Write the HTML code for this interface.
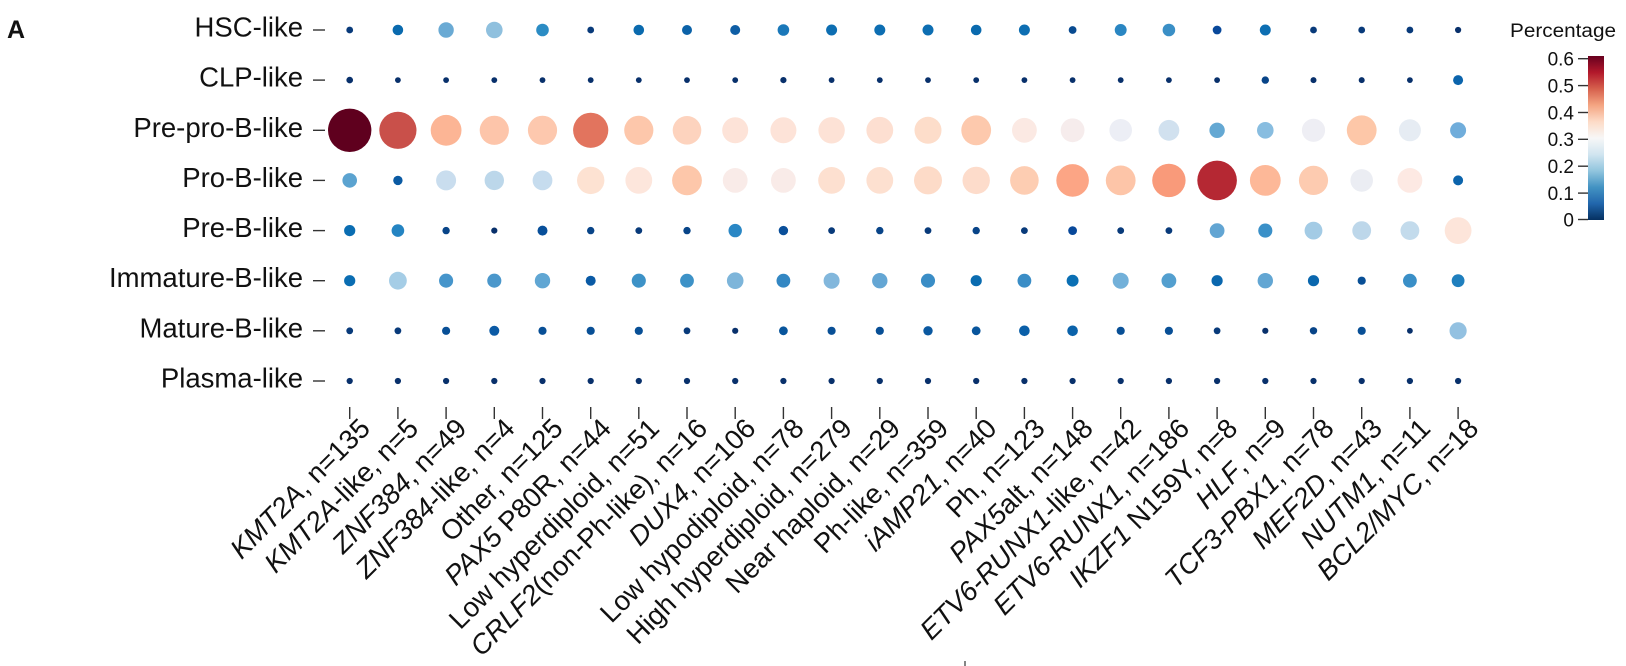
<!DOCTYPE html>
<html><head><meta charset="utf-8"><style>
html,body{margin:0;padding:0;background:#fff;}
svg{display:block;}
text{font-family:"Liberation Sans",Arial,sans-serif;fill:#111;}
</style></head><body>
<svg width="1626" height="666" viewBox="0 0 1626 666" xmlns="http://www.w3.org/2000/svg">
<defs>
<linearGradient id="cb" x1="0" y1="0" x2="0" y2="1">
<stop offset="0" stop-color="#67001f"/><stop offset="0.1" stop-color="#b2182b"/><stop offset="0.2" stop-color="#d6604d"/><stop offset="0.3" stop-color="#f4a582"/><stop offset="0.4" stop-color="#fddbc7"/><stop offset="0.5" stop-color="#f7f7f7"/><stop offset="0.6" stop-color="#d1e5f0"/><stop offset="0.7" stop-color="#92c5de"/><stop offset="0.8" stop-color="#4393c3"/><stop offset="0.9" stop-color="#2166ac"/><stop offset="1" stop-color="#053061"/>
</linearGradient>
</defs>
<rect width="1626" height="666" fill="#fff"/>
<text x="7" y="38" font-size="25" font-weight="bold">A</text>

<!-- row labels -->
<g font-size="27.5" text-anchor="end">
<text x="303" y="36.5">HSC-like</text>
<text x="303" y="86.6">CLP-like</text>
<text x="303" y="136.8">Pre-pro-B-like</text>
<text x="303" y="186.9">Pro-B-like</text>
<text x="303" y="237.1">Pre-B-like</text>
<text x="303" y="287.2">Immature-B-like</text>
<text x="303" y="337.3">Mature-B-like</text>
<text x="303" y="387.5">Plasma-like</text>
</g>
<g stroke="#333" stroke-width="1.4">
<line x1="313" x2="325" y1="30" y2="30"/><line x1="313" x2="325" y1="80.1" y2="80.1"/><line x1="313" x2="325" y1="130.3" y2="130.3"/><line x1="313" x2="325" y1="180.4" y2="180.4"/><line x1="313" x2="325" y1="230.6" y2="230.6"/><line x1="313" x2="325" y1="280.7" y2="280.7"/><line x1="313" x2="325" y1="330.8" y2="330.8"/><line x1="313" x2="325" y1="381" y2="381"/>
</g>
<!-- x ticks -->
<g stroke="#333" stroke-width="1.4">
<line x1="349.7" x2="349.7" y1="407" y2="419"/><line x1="397.9" x2="397.9" y1="407" y2="419"/><line x1="446.1" x2="446.1" y1="407" y2="419"/><line x1="494.3" x2="494.3" y1="407" y2="419"/><line x1="542.5" x2="542.5" y1="407" y2="419"/><line x1="590.7" x2="590.7" y1="407" y2="419"/><line x1="638.8" x2="638.8" y1="407" y2="419"/><line x1="687" x2="687" y1="407" y2="419"/><line x1="735.2" x2="735.2" y1="407" y2="419"/><line x1="783.4" x2="783.4" y1="407" y2="419"/><line x1="831.6" x2="831.6" y1="407" y2="419"/><line x1="879.8" x2="879.8" y1="407" y2="419"/><line x1="928" x2="928" y1="407" y2="419"/><line x1="976.2" x2="976.2" y1="407" y2="419"/><line x1="1024.4" x2="1024.4" y1="407" y2="419"/><line x1="1072.6" x2="1072.6" y1="407" y2="419"/><line x1="1120.7" x2="1120.7" y1="407" y2="419"/><line x1="1168.9" x2="1168.9" y1="407" y2="419"/><line x1="1217.1" x2="1217.1" y1="407" y2="419"/><line x1="1265.3" x2="1265.3" y1="407" y2="419"/><line x1="1313.5" x2="1313.5" y1="407" y2="419"/><line x1="1361.7" x2="1361.7" y1="407" y2="419"/><line x1="1409.9" x2="1409.9" y1="407" y2="419"/><line x1="1458.1" x2="1458.1" y1="407" y2="419"/>
<line x1="965" x2="965" y1="661" y2="666" stroke-width="1.2"/>
</g>
<!-- x labels -->
<g font-size="27.5" text-anchor="end">
<text transform="translate(371.7,430) rotate(-45)"><tspan font-style="italic">KMT2A</tspan>, n=135</text>
<text transform="translate(419.9,430) rotate(-45)"><tspan font-style="italic">KMT2A</tspan>-like, n=5</text>
<text transform="translate(468.1,430) rotate(-45)"><tspan font-style="italic">ZNF384</tspan>, n=49</text>
<text transform="translate(516.3,430) rotate(-45)"><tspan font-style="italic">ZNF384</tspan>-like, n=4</text>
<text transform="translate(564.5,430) rotate(-45)">Other, n=125</text>
<text transform="translate(612.7,430) rotate(-45)"><tspan font-style="italic">PAX5</tspan> P80R, n=44</text>
<text transform="translate(660.8,430) rotate(-45)">Low hyperdiploid, n=51</text>
<text transform="translate(709,430) rotate(-45)"><tspan font-style="italic">CRLF2</tspan>(non-Ph-like), n=16</text>
<text transform="translate(757.2,430) rotate(-45)"><tspan font-style="italic">DUX4</tspan>, n=106</text>
<text transform="translate(805.4,430) rotate(-45)">Low hypodiploid, n=78</text>
<text transform="translate(853.6,430) rotate(-45)">High hyperdiploid, n=279</text>
<text transform="translate(901.8,430) rotate(-45)">Near haploid, n=29</text>
<text transform="translate(950,430) rotate(-45)">Ph-like, n=359</text>
<text transform="translate(998.2,430) rotate(-45)"><tspan font-style="italic">iAMP21</tspan>, n=40</text>
<text transform="translate(1046.4,430) rotate(-45)">Ph, n=123</text>
<text transform="translate(1094.6,430) rotate(-45)"><tspan font-style="italic">PAX5</tspan>alt, n=148</text>
<text transform="translate(1142.7,430) rotate(-45)"><tspan font-style="italic">ETV6-RUNX1</tspan>-like, n=42</text>
<text transform="translate(1190.9,430) rotate(-45)"><tspan font-style="italic">ETV6-RUNX1</tspan>, n=186</text>
<text transform="translate(1239.1,430) rotate(-45)"><tspan font-style="italic">IKZF1</tspan> N159Y, n=8</text>
<text transform="translate(1287.3,430) rotate(-45)"><tspan font-style="italic">HLF</tspan>, n=9</text>
<text transform="translate(1335.5,430) rotate(-45)"><tspan font-style="italic">TCF3-PBX1</tspan>, n=78</text>
<text transform="translate(1383.7,430) rotate(-45)"><tspan font-style="italic">MEF2D</tspan>, n=43</text>
<text transform="translate(1431.9,430) rotate(-45)"><tspan font-style="italic">NUTM1</tspan>, n=11</text>
<text transform="translate(1480.1,430) rotate(-45)"><tspan font-style="italic">BCL2/MYC</tspan>, n=18</text>
</g>

<!-- Row 0 HSC -->
<g transform="translate(0,30)">
<circle cx="349.7" r="3.4" fill="#083a7a"/>
<circle cx="397.9" r="5.3" fill="#0a6aae"/>
<circle cx="446.1" r="7.7" fill="#6aaad4"/>
<circle cx="494.3" r="8.3" fill="#8fc0de"/>
<circle cx="542.5" r="6.3" fill="#2b8cc4"/>
<circle cx="590.7" r="3.4" fill="#083a7a"/>
<circle cx="638.8" r="5.3" fill="#0a6aae"/>
<circle cx="687" r="5.0" fill="#0b62a8"/>
<circle cx="735.2" r="5.0" fill="#0e5ea5"/>
<circle cx="783.4" r="5.8" fill="#1a78b9"/>
<circle cx="831.6" r="5.5" fill="#0d6eb2"/>
<circle cx="879.8" r="5.5" fill="#0d6eb2"/>
<circle cx="928" r="5.5" fill="#0d6eb2"/>
<circle cx="976.2" r="5.3" fill="#0a6aae"/>
<circle cx="1024.4" r="5.5" fill="#0d6eb2"/>
<circle cx="1072.6" r="3.9" fill="#084a90"/>
<circle cx="1120.7" r="5.95" fill="#2a86c2"/>
<circle cx="1168.9" r="6.3" fill="#3a8fc6"/>
<circle cx="1217.1" r="4.4" fill="#08489a"/>
<circle cx="1265.3" r="5.5" fill="#0d6eb2"/>
<circle cx="1313.5" r="3.4" fill="#083a7a"/>
<circle cx="1361.7" r="3.4" fill="#083a7a"/>
<circle cx="1409.9" r="3.4" fill="#083a7a"/>
<circle cx="1458.1" r="3.1" fill="#08306b"/>
</g>
<!-- Row 1 CLP -->
<g transform="translate(0,80.1)" fill="#08306b">
<circle cx="349.7" r="3.3"/>
<circle cx="397.9" r="2.9"/>
<circle cx="446.1" r="2.9"/>
<circle cx="494.3" r="2.9"/>
<circle cx="542.5" r="2.9"/>
<circle cx="590.7" r="2.9"/>
<circle cx="638.8" r="2.9"/>
<circle cx="687" r="2.9"/>
<circle cx="735.2" r="2.9"/>
<circle cx="783.4" r="3.1"/>
<circle cx="831.6" r="2.9"/>
<circle cx="879.8" r="2.9"/>
<circle cx="928" r="2.9"/>
<circle cx="976.2" r="2.9"/>
<circle cx="1024.4" r="2.9"/>
<circle cx="1072.6" r="2.9"/>
<circle cx="1120.7" r="2.9"/>
<circle cx="1168.9" r="2.9"/>
<circle cx="1217.1" r="2.9"/>
<circle cx="1265.3" r="3.7" fill="#084488"/>
<circle cx="1313.5" r="3.0"/>
<circle cx="1361.7" r="3.0"/>
<circle cx="1409.9" r="2.9"/>
<circle cx="1458.1" r="5.0" fill="#0b64ac"/>
</g>
<!-- Row 2 Pre-pro-B -->
<g transform="translate(0,130.3)">
<circle cx="349.7" r="21.7" fill="#5f001e"/>
<circle cx="397.9" r="18.6" fill="#c9504a"/>
<circle cx="446.1" r="15.4" fill="#fcb595"/>
<circle cx="494.3" r="14.6" fill="#fdc5aa"/>
<circle cx="542.5" r="14.6" fill="#fdc8ae"/>
<circle cx="590.7" r="17.6" fill="#e2745e"/>
<circle cx="638.8" r="14.6" fill="#fdc7ab"/>
<circle cx="687" r="14.3" fill="#fdd3be"/>
<circle cx="735.2" r="13.0" fill="#fde3d8"/>
<circle cx="783.4" r="13.0" fill="#fde3d8"/>
<circle cx="831.6" r="13.2" fill="#fde2d6"/>
<circle cx="879.8" r="13.4" fill="#fddfd1"/>
<circle cx="928" r="13.5" fill="#fdddca"/>
<circle cx="976.2" r="14.9" fill="#fdc9ad"/>
<circle cx="1024.4" r="12.4" fill="#fbe9e3"/>
<circle cx="1072.6" r="11.9" fill="#f6ecec"/>
<circle cx="1120.7" r="11.3" fill="#eceef5"/>
<circle cx="1168.9" r="10.4" fill="#d1e1ef"/>
<circle cx="1217.1" r="7.7" fill="#64a8d3"/>
<circle cx="1265.3" r="8.3" fill="#88bde0"/>
<circle cx="1313.5" r="11.6" fill="#eeeef4"/>
<circle cx="1361.7" r="14.9" fill="#fdc7a8"/>
<circle cx="1409.9" r="11.0" fill="#e6ecf3"/>
<circle cx="1458.1" r="8.0" fill="#70addb"/>
</g>
<!-- Row 3 Pro-B -->
<g transform="translate(0,180.4)">
<circle cx="349.7" r="7.3" fill="#5ba3d0"/>
<circle cx="397.9" r="4.7" fill="#0a5aa3"/>
<circle cx="446.1" r="10.0" fill="#c9ddee"/>
<circle cx="494.3" r="9.7" fill="#bcd7ea"/>
<circle cx="542.5" r="9.9" fill="#c6dcee"/>
<circle cx="590.7" r="13.7" fill="#fde2d2"/>
<circle cx="638.8" r="13.4" fill="#fde6dc"/>
<circle cx="687" r="14.9" fill="#fdc7aa"/>
<circle cx="735.2" r="12.4" fill="#f9ebe8"/>
<circle cx="783.4" r="12.4" fill="#f9ebe8"/>
<circle cx="831.6" r="13.4" fill="#fde0d0"/>
<circle cx="879.8" r="13.4" fill="#fde0d0"/>
<circle cx="928" r="14.0" fill="#fddbc8"/>
<circle cx="976.2" r="13.7" fill="#fddccb"/>
<circle cx="1024.4" r="14.3" fill="#fdcdb2"/>
<circle cx="1072.6" r="16.3" fill="#fca585"/>
<circle cx="1120.7" r="14.9" fill="#fdc5a8"/>
<circle cx="1168.9" r="16.7" fill="#f99a7a"/>
<circle cx="1217.1" r="19.8" fill="#b52833"/>
<circle cx="1265.3" r="15.4" fill="#fdb898"/>
<circle cx="1313.5" r="14.6" fill="#fdcbb0"/>
<circle cx="1361.7" r="11.3" fill="#ebedf3"/>
<circle cx="1409.9" r="12.4" fill="#fde9e3"/>
<circle cx="1458.1" r="5.0" fill="#0b64ac"/>
</g>
<!-- Row 4 Pre-B -->
<g transform="translate(0,230.6)">
<circle cx="349.7" r="5.6" fill="#0a6db2"/>
<circle cx="397.9" r="6.3" fill="#2484c2"/>
<circle cx="446.1" r="3.7" fill="#084488"/>
<circle cx="494.3" r="3.1" fill="#08306b"/>
<circle cx="542.5" r="5.0" fill="#084f9a"/>
<circle cx="590.7" r="3.7" fill="#084488"/>
<circle cx="638.8" r="3.4" fill="#083a7a"/>
<circle cx="687" r="3.7" fill="#084488"/>
<circle cx="735.2" r="6.7" fill="#2a87c5"/>
<circle cx="783.4" r="4.7" fill="#0a4f9a"/>
<circle cx="831.6" r="3.4" fill="#083a7a"/>
<circle cx="879.8" r="3.7" fill="#084488"/>
<circle cx="928" r="3.4" fill="#083a7a"/>
<circle cx="976.2" r="3.7" fill="#084488"/>
<circle cx="1024.4" r="3.4" fill="#083a7a"/>
<circle cx="1072.6" r="4.4" fill="#08489a"/>
<circle cx="1120.7" r="3.4" fill="#083a7a"/>
<circle cx="1168.9" r="3.4" fill="#083a7a"/>
<circle cx="1217.1" r="7.4" fill="#62a5d3"/>
<circle cx="1265.3" r="7.05" fill="#3a90c8"/>
<circle cx="1313.5" r="8.9" fill="#a3cbe5"/>
<circle cx="1361.7" r="9.4" fill="#bdd7ea"/>
<circle cx="1409.9" r="9.4" fill="#c3dbec"/>
<circle cx="1458.1" r="13.4" fill="#fde5da"/>
</g>
<!-- Row 5 Immature-B -->
<g transform="translate(0,280.7)">
<circle cx="349.7" r="5.6" fill="#0a6db2"/>
<circle cx="397.9" r="8.9" fill="#a5cde6"/>
<circle cx="446.1" r="7.05" fill="#4695cb"/>
<circle cx="494.3" r="7.05" fill="#4b97cb"/>
<circle cx="542.5" r="7.7" fill="#60a6d3"/>
<circle cx="590.7" r="5.0" fill="#0a5aa5"/>
<circle cx="638.8" r="7.05" fill="#3d92c7"/>
<circle cx="687" r="6.9" fill="#3d92c7"/>
<circle cx="735.2" r="8.3" fill="#7db5da"/>
<circle cx="783.4" r="6.9" fill="#3387c3"/>
<circle cx="831.6" r="8.0" fill="#82b7dc"/>
<circle cx="879.8" r="7.7" fill="#64a6d4"/>
<circle cx="928" r="7.05" fill="#3a8dc6"/>
<circle cx="976.2" r="5.6" fill="#0a6cb0"/>
<circle cx="1024.4" r="6.9" fill="#3a8dc6"/>
<circle cx="1072.6" r="5.95" fill="#0a6fb4"/>
<circle cx="1120.7" r="8.0" fill="#72b0d9"/>
<circle cx="1168.9" r="7.4" fill="#539fcf"/>
<circle cx="1217.1" r="5.6" fill="#0a67ae"/>
<circle cx="1265.3" r="7.7" fill="#62a6d3"/>
<circle cx="1313.5" r="5.6" fill="#0a67ae"/>
<circle cx="1361.7" r="4.1" fill="#084f96"/>
<circle cx="1409.9" r="6.9" fill="#3a8fc7"/>
<circle cx="1458.1" r="6.4" fill="#1f7fbe"/>
</g>
<!-- Row 6 Mature-B -->
<g transform="translate(0,330.8)">
<circle cx="349.7" r="3.4" fill="#083a7a"/>
<circle cx="397.9" r="3.4" fill="#083a7a"/>
<circle cx="446.1" r="4.1" fill="#084f96"/>
<circle cx="494.3" r="5.0" fill="#0b5aa5"/>
<circle cx="542.5" r="4.1" fill="#084f96"/>
<circle cx="590.7" r="4.1" fill="#084f96"/>
<circle cx="638.8" r="4.1" fill="#084f96"/>
<circle cx="687" r="3.4" fill="#083a7a"/>
<circle cx="735.2" r="3.1" fill="#08306b"/>
<circle cx="783.4" r="4.4" fill="#08559c"/>
<circle cx="831.6" r="4.1" fill="#084f96"/>
<circle cx="879.8" r="4.1" fill="#084f96"/>
<circle cx="928" r="4.7" fill="#0a58a0"/>
<circle cx="976.2" r="4.4" fill="#08559c"/>
<circle cx="1024.4" r="5.3" fill="#0a5fa8"/>
<circle cx="1072.6" r="5.3" fill="#0a62aa"/>
<circle cx="1120.7" r="4.1" fill="#084f96"/>
<circle cx="1168.9" r="4.1" fill="#084f96"/>
<circle cx="1217.1" r="3.4" fill="#083a7a"/>
<circle cx="1265.3" r="3.1" fill="#08306b"/>
<circle cx="1313.5" r="3.7" fill="#084488"/>
<circle cx="1361.7" r="4.1" fill="#084f96"/>
<circle cx="1409.9" r="2.9" fill="#08306b"/>
<circle cx="1458.1" r="8.6" fill="#93c1e1"/>
</g>
<!-- Row 7 Plasma -->
<g transform="translate(0,381)" fill="#08306b">
<circle cx="349.7" r="3.1"/><circle cx="397.9" r="3.1"/><circle cx="446.1" r="3.1"/><circle cx="494.3" r="3.1"/><circle cx="542.5" r="3.1"/><circle cx="590.7" r="3.1"/><circle cx="638.8" r="3.1"/><circle cx="687" r="3.1"/><circle cx="735.2" r="3.1"/><circle cx="783.4" r="3.1"/><circle cx="831.6" r="3.1"/><circle cx="879.8" r="3.1"/><circle cx="928" r="3.1"/><circle cx="976.2" r="3.1"/><circle cx="1024.4" r="3.1"/><circle cx="1072.6" r="3.1"/><circle cx="1120.7" r="3.1"/><circle cx="1168.9" r="3.1"/><circle cx="1217.1" r="3.1"/><circle cx="1265.3" r="3.1"/><circle cx="1313.5" r="3.1"/><circle cx="1361.7" r="3.1"/><circle cx="1409.9" r="3.1"/><circle cx="1458.1" r="3.1"/>
</g>

<!-- legend -->
<text x="1510" y="37" font-size="19" textLength="106" lengthAdjust="spacingAndGlyphs">Percentage</text>
<rect x="1588" y="56" width="16" height="164" fill="url(#cb)"/>
<g stroke="#333" stroke-width="1.4">
<line x1="1578" x2="1588" y1="58.7" y2="58.7"/><line x1="1578" x2="1588" y1="85.6" y2="85.6"/><line x1="1578" x2="1588" y1="112.5" y2="112.5"/><line x1="1578" x2="1588" y1="139.3" y2="139.3"/><line x1="1578" x2="1588" y1="166.2" y2="166.2"/><line x1="1578" x2="1588" y1="193.1" y2="193.1"/><line x1="1578" x2="1588" y1="219.5" y2="219.5"/>
</g>
<g font-size="19" text-anchor="end">
<text x="1574" y="65.5">0.6</text>
<text x="1574" y="92.4">0.5</text>
<text x="1574" y="119.3">0.4</text>
<text x="1574" y="146.1">0.3</text>
<text x="1574" y="173">0.2</text>
<text x="1574" y="199.9">0.1</text>
<text x="1574" y="226.5">0</text>
</g>
</svg>
</body></html>
